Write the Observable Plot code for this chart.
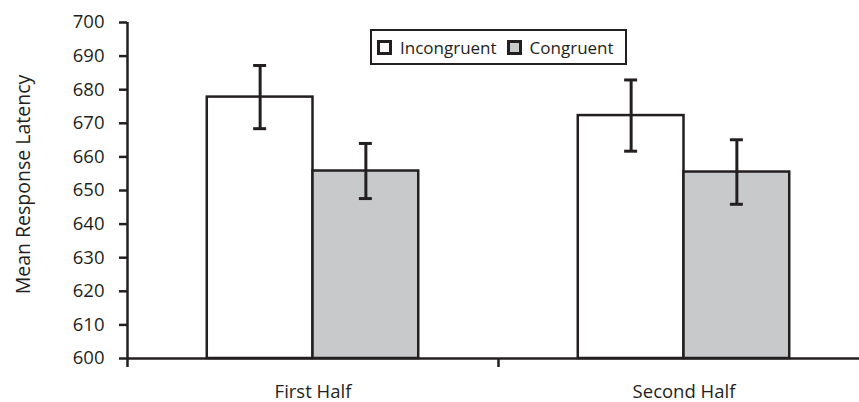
<!DOCTYPE html>
<html>
<head>
<meta charset="utf-8">
<script src="https://cdn.jsdelivr.net/npm/d3@7"></script>
<script src="https://cdn.jsdelivr.net/npm/@observablehq/plot@0.6"></script>
<style>
  html, body { margin: 0; padding: 0; background: #fff; }
  #chart { position: relative; width: 859px; height: 402px; overflow: hidden; font-family: "Open Sans", sans-serif; }
  #chart svg { display: block; }
  .legend { position: absolute; left: 370px; top: 29px; width: 257px; height: 36px; box-sizing: border-box;
            border: 2.5px solid #231f20; background: #fff; display: flex; align-items: center;
            padding-left: 5px; font-size: 17px; color: #231f20; }
  .legend .item { display: flex; align-items: center; margin-right: 10px; }
  .legend .sw { width: 15px; height: 15px; box-sizing: border-box; border: 3px solid #231f20; margin-right: 8px; }
</style>
</head>
<body>
<div id="chart"></div>
<script>
// ---- data ----
const groups = ["First Half", "Second Half"];
const conditions = ["Incongruent", "Congruent"];
const incongruentMeans = [677.8, 672.3];
const congruentMeans = [655.8, 655.5];
const incongruentErr = [9.4, 10.6];
const congruentErr = [8.2, 9.6];
const yTicks = [600, 610, 620, 630, 640, 650, 660, 670, 680, 690, 700];
const yLabel = "Mean Response Latency";

// ---- styles / layout ----
const ink = "#231f20";
const fills = ["#ffffff", "#c8c9cb"];
const barW = 0.285;      // bar width as a fraction of one group band
const capW = 0.0175;     // half width of the error-bar caps, same units
const fs = 18.5;

const rows = [];
groups.forEach((g, i) => {
  [incongruentMeans, congruentMeans].forEach((means, j) => {
    const err = (j === 0 ? incongruentErr : congruentErr)[i];
    const x1 = i + 0.5 + (j - 1) * barW;
    rows.push({group: g, cond: conditions[j], mean: means[i], lo: means[i] - err, hi: means[i] + err,
               x1, x2: x1 + barW, cx: x1 + barW / 2});
  });
});

const plot = Plot.plot({
  width: 859,
  height: 402,
  marginLeft: 127,
  marginRight: 0,
  marginTop: 22,
  marginBottom: 44,
  style: {fontFamily: "'Open Sans', sans-serif", fontSize: fs + "px", color: ink, background: "#fff"},
  x: {type: "linear", domain: [0, groups.length], range: [127, 869]},
  y: {domain: [yTicks[0], yTicks[yTicks.length - 1]]},
  color: {domain: conditions, range: fills},
  marks: [
    Plot.rectY(rows, {x1: "x1", x2: "x2", y1: yTicks[0], y2: "mean", fill: "cond", stroke: ink, strokeWidth: 2.5}),
    Plot.ruleX(rows, {x: "cx", y1: "lo", y2: "hi", stroke: ink, strokeWidth: 3}),
    Plot.ruleY(rows, {y: "hi", x1: d => d.cx - capW, x2: d => d.cx + capW, stroke: ink, strokeWidth: 3}),
    Plot.ruleY(rows, {y: "lo", x1: d => d.cx - capW, x2: d => d.cx + capW, stroke: ink, strokeWidth: 3}),
    // axes
    Plot.ruleY([yTicks[0]], {stroke: ink, strokeWidth: 2.5}),
    Plot.ruleX([0], {y1: yTicks[0], y2: yTicks[yTicks.length - 1], stroke: ink, strokeWidth: 2.5}),
    Plot.axisY({ticks: yTicks, tickSize: 8, tickPadding: 15, strokeWidth: 2.5, stroke: ink, fill: ink, fontSize: fs,
                label: null}),
    Plot.text([yLabel], {frameAnchor: "left", text: d => d, rotate: -90, lineAnchor: "top", textAnchor: "middle",
                dx: -111, dy: -6, fontSize: 19.5, fill: ink}),
    Plot.axisX({ticks: d3.range(groups.length + 1), tickFormat: () => "", tickSize: 9, strokeWidth: 2.5, stroke: ink, label: null}),
    Plot.axisX({ticks: groups.map((g, i) => i + 0.5), tickFormat: v => groups[Math.floor(v)], tickSize: 0,
                tickPadding: 26, fill: ink, fontSize: fs, label: null})
  ]
});

const chart = document.getElementById("chart");
chart.appendChild(plot);

const legend = document.createElement("div");
legend.className = "legend";
conditions.forEach((c, j) => {
  const item = document.createElement("div");
  item.className = "item";
  const sw = document.createElement("span");
  sw.className = "sw";
  sw.style.background = fills[j];
  const t = document.createElement("span");
  t.textContent = c;
  item.appendChild(sw);
  item.appendChild(t);
  legend.appendChild(item);
});
chart.appendChild(legend);
</script>
</body>
</html>
